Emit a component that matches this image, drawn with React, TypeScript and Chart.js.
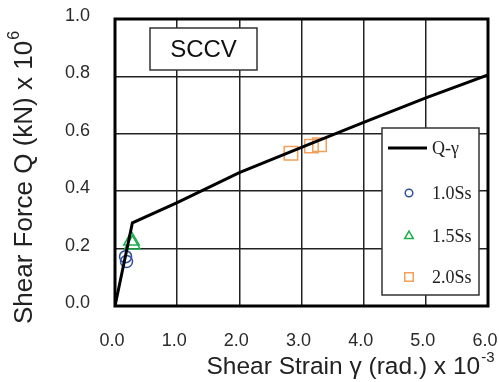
import React, { useEffect, useRef } from "react";
import { Chart, registerables } from "chart.js";

Chart.register(...registerables);

// ---- data ----
const curveStrain = [0, 0.28, 1.0, 2.0, 3.0, 4.0, 5.0, 6.0];
const curveForce = [0, 0.29, 0.36, 0.465, 0.553, 0.64, 0.725, 0.805];
const ss10Strain = [0.17, 0.185];
const ss10Force = [0.172, 0.155];
const ss15Strain = [0.265, 0.28];
const ss15Force = [0.228, 0.214];
const ss20Strain = [2.83, 3.16, 3.29];
const ss20Force = [0.532, 0.557, 0.562];
const xTickValues = [0, 1, 2, 3, 4, 5, 6];
const yTickValues = [0, 0.2, 0.4, 0.6, 0.8, 1.0];
const seriesLabels = ["Q-γ", "1.0Ss", "1.5Ss", "2.0Ss"];
const seriesColors = ["#000000", "#2f4f9f", "#1fae4f", "#f2a05a"];
const seriesStyles = ["line", "circle", "triangle", "rect"];
const panelTitle = "SCCV";
const xTitleText = "Shear Strain γ (rad.) x 10";
const xTitleExp = "-3";
const yTitleText = "Shear Force Q (kN) x 10";
const yTitleExp = "6";

const SANS = '"Liberation Sans", Arial, sans-serif';
const SERIF = '"Liberation Serif", "DejaVu Serif", serif';

const zip = (xs: number[], ys: number[]) => xs.map((x, i) => ({ x, y: ys[i] }));

function drawMarker(ctx: CanvasRenderingContext2D, style: string, x: number, y: number, r: number) {
  ctx.beginPath();
  if (style === "circle") {
    ctx.arc(x, y, r, 0, Math.PI * 2);
  } else if (style === "triangle") {
    ctx.moveTo(x, y - r);
    ctx.lineTo(x + r * Math.sin((2 * Math.PI) / 3), y - r * Math.cos((2 * Math.PI) / 3));
    ctx.lineTo(x + r * Math.sin((4 * Math.PI) / 3), y - r * Math.cos((4 * Math.PI) / 3));
    ctx.closePath();
  } else {
    const s = r * Math.SQRT1_2;
    ctx.rect(x - s, y - s, 2 * s, 2 * s);
  }
  ctx.stroke();
}

const decorPlugin = {
  id: "decor",
  afterDatasetsDraw(chart: any) {
    const ctx: CanvasRenderingContext2D = chart.ctx;
    ctx.save();

    // Panel title box
    ctx.fillStyle = "#ffffff";
    ctx.strokeStyle = "#333333";
    ctx.lineWidth = 1.5;
    ctx.fillRect(150, 28, 107, 42);
    ctx.strokeRect(150, 28, 107, 42);
    ctx.fillStyle = "#111111";
    ctx.font = `24px ${SANS}`;
    ctx.textAlign = "center";
    ctx.textBaseline = "middle";
    ctx.fillText(panelTitle, 203.5, 50);

    // Legend box
    const lx = 382, ly = 128, lw = 97, lh = 167;
    ctx.fillStyle = "#ffffff";
    ctx.fillRect(lx, ly, lw, lh);
    ctx.strokeStyle = "#333333";
    ctx.lineWidth = 1.5;
    ctx.strokeRect(lx, ly, lw, lh);
    const rowY = [148, 193, 236, 277];
    const rad = [0, 3.8, 5, 6];
    ctx.font = `18px ${SERIF}`;
    ctx.textAlign = "left";
    ctx.textBaseline = "middle";
    seriesLabels.forEach((lab, i) => {
      ctx.strokeStyle = seriesColors[i];
      if (seriesStyles[i] === "line") {
        ctx.lineWidth = 3;
        ctx.beginPath();
        ctx.moveTo(388, rowY[i]);
        ctx.lineTo(427, rowY[i]);
        ctx.stroke();
      } else {
        ctx.lineWidth = 1.5;
        drawMarker(ctx, seriesStyles[i], 409, rowY[i], rad[i]);
      }
      ctx.fillStyle = "#222222";
      ctx.fillText(lab, 432, rowY[i] + 1);
    });
    ctx.restore();
  },
  afterDraw(chart: any) {
    const ctx: CanvasRenderingContext2D = chart.ctx;
    const { left, top, right, bottom } = chart.chartArea;
    ctx.save();
    // frame
    ctx.strokeStyle = "#000000";
    ctx.lineWidth = 3;
    ctx.strokeRect(left, top, right - left, bottom - top);

    ctx.fillStyle = "#222222";
    ctx.textBaseline = "middle";
    ctx.textAlign = "left";
    const supFont = `15px ${SANS}`;

    // x title
    let mainFont = `24.5px ${SANS}`;
    ctx.font = mainFont;
    const wx1 = ctx.measureText(xTitleText).width;
    ctx.font = supFont;
    const wx2 = ctx.measureText(xTitleExp).width;
    const sx = 350 - (wx1 + wx2) / 2;
    ctx.font = mainFont;
    ctx.fillText(xTitleText, sx, 367);
    ctx.font = supFont;
    ctx.fillText(xTitleExp, sx + wx1 + 1, 358);

    // y title
    mainFont = `26px ${SANS}`;
    ctx.translate(25, 178);
    ctx.rotate(-Math.PI / 2);
    ctx.font = mainFont;
    const wy1 = ctx.measureText(yTitleText).width;
    ctx.font = `16px ${SANS}`;
    const wy2 = ctx.measureText(yTitleExp).width;
    const sy = -(wy1 + wy2) / 2;
    ctx.font = mainFont;
    ctx.fillText(yTitleText, sy, 0);
    ctx.font = `16px ${SANS}`;
    ctx.fillText(yTitleExp, sy + wy1 + 1, -10);
    ctx.restore();
  },
};

export default function App() {
  const ref = useRef<HTMLCanvasElement | null>(null);
  useEffect(() => {
    if (!ref.current) return;
    const chart = new Chart(ref.current, {
      type: "scatter",
      data: {
        datasets: [
          {
            label: seriesLabels[0],
            data: zip(curveStrain, curveForce),
            showLine: true,
            borderColor: seriesColors[0],
            borderWidth: 3,
            pointRadius: 0,
            fill: false,
            tension: 0,
          },
          {
            label: seriesLabels[1],
            data: zip(ss10Strain, ss10Force),
            pointStyle: "circle",
            pointRadius: 6,
            borderColor: seriesColors[1],
            backgroundColor: "rgba(0,0,0,0)",
            pointBorderWidth: 1.5,
          },
          {
            label: seriesLabels[2],
            data: zip(ss15Strain, ss15Force),
            pointStyle: "triangle",
            pointRadius: 9,
            borderColor: seriesColors[2],
            backgroundColor: "rgba(0,0,0,0)",
            pointBorderWidth: 1.5,
          },
          {
            label: seriesLabels[3],
            data: zip(ss20Strain, ss20Force),
            pointStyle: "rect",
            pointRadius: 9.5,
            borderColor: seriesColors[3],
            backgroundColor: "rgba(0,0,0,0)",
            pointBorderWidth: 1.5,
          },
        ],
      },
      options: {
        animation: false,
        responsive: false,
        devicePixelRatio: 1,
        layout: { padding: { top: 19, right: 7, left: 0, bottom: 0 } },
        plugins: { legend: { display: false }, tooltip: { enabled: false } },
        scales: {
          x: {
            type: "linear",
            min: 0,
            max: 6,
            afterBuildTicks: (s: any) => {
              s.ticks = xTickValues.map((v) => ({ value: v }));
            },
            afterFit: (s: any) => {
              s.height = 76;
              s.paddingLeft = 0;
              s.paddingRight = 0;
            },
            grid: { color: "#222222", lineWidth: 1.5, drawTicks: false },
            border: { display: false },
            ticks: {
              padding: 24,
              labelOffset: -3,
              autoSkip: false,
              maxRotation: 0,
              color: "#2a2a2a",
              font: { family: SANS, size: 18 },
              callback: (v: any) => Number(v).toFixed(1),
            },
          },
          y: {
            type: "linear",
            min: 0,
            max: 1.0,
            afterBuildTicks: (s: any) => {
              s.ticks = yTickValues.map((v) => ({ value: v }));
            },
            afterFit: (s: any) => {
              s.width = 115;
              s.paddingTop = 0;
              s.paddingBottom = 0;
            },
            grid: { color: "#222222", lineWidth: 1.5, drawTicks: false },
            border: { display: false },
            ticks: {
              padding: 25,
              labelOffset: -3,
              color: "#2a2a2a",
              font: { family: SANS, size: 18 },
              callback: (v: any) => Number(v).toFixed(1),
            },
          },
        },
      },
      plugins: [decorPlugin],
    });
    return () => chart.destroy();
  }, []);
  return (
    <div style={{ position: "absolute", left: 0, top: 0, width: 499, height: 382, background: "#fff" }}>
      <canvas ref={ref} width={499} height={382} style={{ display: "block", width: 499, height: 382 }} />
    </div>
  );
}
